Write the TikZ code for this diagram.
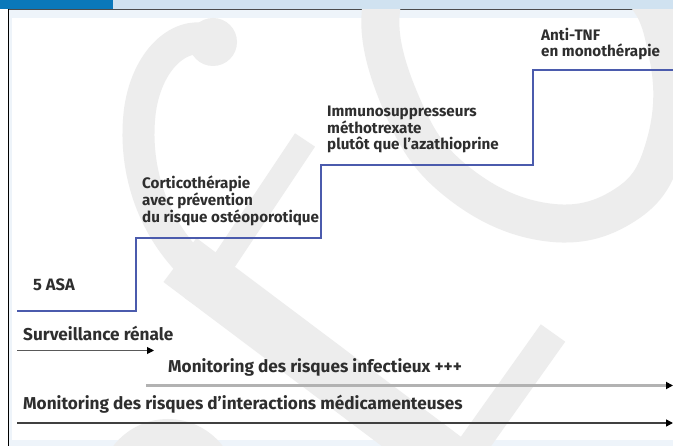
\documentclass[tikz,border=0pt]{standalone}
\usepackage{fontspec}
\setmainfont{Fira Sans}
\usetikzlibrary{positioning,arrows.meta}
\definecolor{stairblue}{HTML}{4B5BAD}
\definecolor{headblue}{HTML}{0A78BA}
\definecolor{headlight}{HTML}{D0E2F0}
\definecolor{framelight}{HTML}{EEF4FA}
\definecolor{wmgray}{HTML}{EDEDED}
\definecolor{txtgray}{HTML}{2E2E2E}
\begin{document}
\begin{tikzpicture}[x=1pt,y=-1pt,
  lbl/.style = {font=\fontsize{15.2}{16}\selectfont\bfseries,text=txtgray,
        align=left,anchor=base west,inner sep=0pt},
  barlbl/.style = {font=\fontsize{17.2}{18}\selectfont\bfseries,text=txtgray,
        anchor=base west,inner sep=0pt},
  stair/.style = {stairblue,line width=1.6pt},
  wm/.style = {wmgray},
  track/.style = {line width=1pt,-{Triangle[length=7pt,width=7pt,color=black]}}
]
\useasboundingbox (0,0) rectangle (673,446);
% frame and header
\fill[framelight] (9,10) rectangle (673,446);
\fill[white] (12,18) rectangle (673,440);
\fill[headlight] (0,0) rectangle (673,9);
\fill[headblue] (0,0) rectangle (113,9);
\draw[black!70,line width=1pt] (8,9.5) -- (673,9.5);
\draw[black,line width=1pt] (8.5,9.5) -- (8.5,446);
% watermark
\begin{scope}
 \clip (9,10) rectangle (673,446);
 \draw[wm,line width=38pt] plot[smooth cycle,tension=0.7] coordinates
   {(381,10) (402,105) (455,180) (545,222) (625,205) (665,145) (668,55) (630,-20) (520,-70) (420,-45)};
 \fill[wm] (213,42) circle (24pt);
 \draw[wm,line width=32pt] (213,42) .. controls (185,28) and (148,55) .. (140,110)
   .. controls (133,165) and (150,225) .. (195,268);
 \draw[wm,line width=55pt] (180,260) -- (470,478);
 \draw[wm,line width=24pt] (305,140) -- (195,305);
 \draw[wm,line width=30pt] (553,333) -- (450,478);
 \draw[wm,line width=28pt] (168,488) circle (55pt);
\end{scope}
% steps
\coordinate (s0) at (17,311);
\coordinate (s1) at (136,238);
\coordinate (s2) at (321,165);
\coordinate (s3) at (533,70);
\coordinate (s4) at (673,70);
\draw[stair] (s0) -| (s1) -| (s2) -| (s3) -- (s4);
\node[lbl,font=\fontsize{16.5}{18}\selectfont\bfseries] (asa) at (33,291) {5 ASA};
\node[lbl] (cortico) at (142,223) {Corticothérapie\\avec prévention\\du risque ostéoporotique};
\node[lbl] (immuno) at (327,150) {Immunosuppresseurs\\méthotrexate\\plutôt que l’azathioprine};
\node[lbl] (antitnf) at (541,57) {Anti-TNF\\en monothérapie};
% monitoring tracks
\node[barlbl] (renal) at (23,341) {Surveillance rénale};
\node[barlbl] (infect) at (168,373) {Monitoring des risques infectieux +++};
\node[barlbl] (interact) at (23,410) {Monitoring des risques d’interactions médicamenteuses};
\coordinate (r0) at (17,350.5);
\coordinate (r1) at (154,350.5);
\coordinate (i0) at (146,385.5);
\coordinate (i1) at (673,385.5);
\coordinate (m0) at (17,423);
\coordinate (m1) at (673,423);
\draw[track,black!65] (r0) -- (r1);
\draw[track,black!30,line width=2.4pt] (i0) -- (i1);
\draw[track,black!75,line width=1.5pt] (m0) -- (m1);
\end{tikzpicture}
\end{document}
